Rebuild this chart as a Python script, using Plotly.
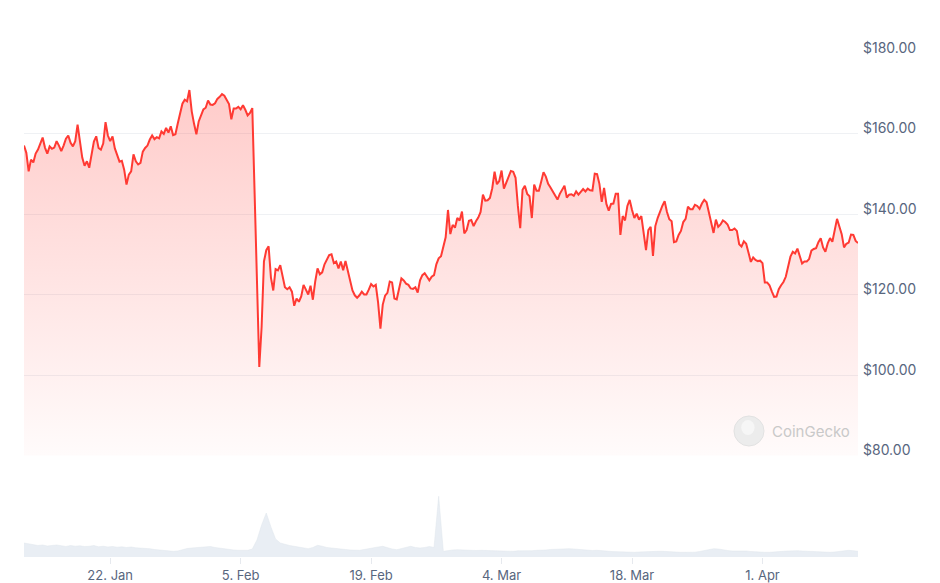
import pandas as pd
import plotly.graph_objects as go

# 6-hourly price samples (USD)
price_start = "2024-01-12 18:00"
price = [
    157.0, 155.2, 150.6, 153.5, 152.8, 155.0, 156.0, 157.5, 159.0, 156.5,
    155.0, 156.8, 156.2, 156.5, 158.1, 157.0, 155.6, 157.0, 158.7, 159.5,
    157.7, 156.8, 158.1, 162.2, 158.5, 154.0, 152.0, 153.1, 151.5, 154.5,
    158.0, 159.3, 156.4, 156.0, 157.5, 162.8, 159.5, 158.1, 159.3, 156.3,
    154.8, 153.0, 153.2, 151.0, 147.3, 149.8, 150.6, 154.8, 153.1, 152.3,
    152.7, 155.5, 156.4, 157.0, 158.5, 159.5, 158.6, 159.1, 158.8, 160.5,
    159.9, 161.4, 160.2, 161.8, 159.6, 159.8, 162.5, 164.7, 167.4, 168.4,
    168.0, 170.8, 165.5, 162.4, 159.8, 163.0, 164.3, 166.0, 166.4, 168.2,
    167.2, 167.1, 167.5, 168.6, 169.1, 169.8, 169.4, 168.4, 167.3, 163.5,
    166.2, 166.2, 166.6, 166.0, 167.0, 165.9, 164.5, 165.1, 166.3, 145.0,
    123.0, 102.0, 112.0, 128.2, 131.0, 132.0, 124.2, 121.0, 126.3, 126.0,
    127.3, 124.5, 121.8, 121.3, 121.8, 120.7, 117.2, 119.0, 118.2, 119.5,
    122.4, 121.2, 120.0, 122.2, 118.7, 123.2, 126.5, 125.0, 125.5, 127.5,
    128.8, 129.8, 130.0, 127.8, 128.2, 126.5, 128.2, 126.0, 128.3, 125.8,
    122.8, 121.0, 119.8, 119.2, 119.8, 120.7, 120.0, 120.0, 121.2, 122.6,
    122.0, 122.4, 118.0, 111.5, 117.5, 119.7, 120.4, 123.2, 123.0, 119.0,
    118.8, 121.5, 124.0, 123.5, 122.7, 122.4, 121.5, 121.4, 121.8, 120.5,
    123.5, 124.8, 125.3, 124.4, 123.5, 124.4, 124.8, 127.5, 129.0, 129.5,
    132.2, 134.2, 141.0, 135.0, 137.3, 136.6, 139.0, 138.4, 140.6, 135.2,
    136.0, 138.3, 138.5, 137.0, 138.2, 139.1, 140.5, 144.8, 143.3, 143.4,
    144.0, 146.4, 150.5, 147.4, 148.2, 150.8, 146.3, 147.8, 149.6, 150.7,
    150.5, 149.0, 142.0, 136.5, 146.0, 147.0, 145.0, 144.4, 139.0, 147.3,
    145.8, 145.8, 148.0, 150.4, 149.3, 147.5, 146.6, 145.6, 144.4, 143.6,
    145.0, 146.2, 147.0, 144.1, 144.8, 144.9, 144.5, 145.6, 144.8, 145.5,
    146.2, 145.6, 146.3, 145.9, 145.8, 150.0, 149.9, 147.5, 143.0, 146.5,
    142.5, 140.8, 142.5, 142.6, 145.0, 145.0, 134.8, 139.5, 138.4, 142.0,
    143.5, 141.0, 139.0, 140.1, 138.6, 139.5, 135.0, 131.0, 136.0, 136.8,
    129.6, 137.0, 139.0, 140.8, 142.0, 143.2, 140.5, 138.7, 138.2, 133.0,
    133.2, 134.8, 135.8, 138.0, 138.8, 141.8, 141.2, 141.2, 142.3, 142.0,
    141.3, 142.6, 143.5, 142.9, 140.2, 138.0, 135.3, 138.6, 136.8, 137.4,
    138.4, 138.0, 137.4, 136.0, 136.0, 136.4, 135.8, 132.5, 131.9, 133.2,
    132.6, 130.4, 128.1, 129.2, 128.6, 128.3, 128.4, 127.8, 123.0, 123.0,
    122.3, 120.8, 119.4, 119.5, 121.3, 122.3, 123.1, 124.4, 126.8, 129.4,
    130.6, 130.2, 131.4, 129.8, 127.7, 128.2, 128.2, 128.8, 130.9, 131.3,
    131.5, 133.0, 134.0, 131.7, 130.6, 132.7, 134.0, 133.1, 135.8, 138.8,
    136.9, 135.0, 131.7, 132.6, 132.9, 134.9, 134.8, 133.3, 132.8,
]

# 12-hourly trading volume (million USD)
volume = [
    140, 130, 120, 115, 120, 110, 115, 120, 113, 105,
    115, 108, 112, 105, 107, 115, 102, 108, 100, 105,
    98, 102, 95, 100, 92, 90, 85, 83, 75, 70,
    65, 60, 57, 60, 75, 85, 90, 95, 102, 107,
    105, 95, 88, 80, 75, 70, 67, 65, 67, 80,
    170, 320, 440, 300, 180, 140, 125, 115, 107, 100,
    92, 83, 95, 117, 108, 95, 90, 83, 80, 75,
    70, 68, 67, 75, 85, 95, 100, 107, 90, 80,
    73, 85, 95, 107, 95, 90, 95, 105, 95, 607,
    57, 65, 70, 73, 70, 68, 67, 65, 67, 65,
    60, 63, 58, 60, 57, 57, 62, 60, 65, 63,
    67, 67, 70, 75, 78, 75, 80, 83, 80, 75,
    70, 67, 65, 67, 67, 60, 55, 52, 50, 48,
    47, 47, 50, 53, 55, 58, 57, 57, 53, 50,
    48, 47, 47, 47, 48, 55, 65, 75, 83, 80,
    70, 65, 60, 62, 63, 60, 55, 50, 48, 47,
    47, 48, 52, 57, 60, 63, 63, 60, 57, 53,
    50, 48, 47, 47, 50, 55, 62, 67, 63, 57,
]

price_ticks = [80, 100, 120, 140, 160, 180]

price_time = pd.date_range(price_start, periods=len(price), freq="6h")
volume_time = pd.date_range(price_start, periods=len(volume), freq="12h")

RED = "#ff3a33"
GREY = "#58667e"

fig = go.Figure()

fig.add_trace(go.Scatter(
    x=volume_time, y=volume, yaxis="y2",
    mode="lines", line=dict(color="rgba(222,228,236,0.9)", width=0.5),
    fill="tozeroy", fillcolor="rgba(226,232,240,0.75)",
    hoverinfo="skip",
))

fig.add_trace(go.Scatter(
    x=price_time, y=price,
    mode="lines", line=dict(color=RED, width=2),
    fill="tozeroy",
    fillgradient=dict(
        type="vertical", start=80, stop=170,
        colorscale=[[0, "rgba(255,58,51,0.02)"], [1, "rgba(255,58,51,0.26)"]],
    ),
))

# watermark
fig.add_shape(type="circle", xref="paper", yref="paper",
              x0=0.8513, x1=0.8873, y0=0.2202, y1=0.2798,
              fillcolor="#ececec", line=dict(color="#e2e2e2", width=1), layer="above")
fig.add_shape(type="circle", xref="paper", yref="paper",
              x0=0.8600, x1=0.8760, y0=0.2420, y1=0.2720,
              fillcolor="#f6f6f6", line=dict(width=0), layer="above")
fig.add_annotation(text="CoinGecko", xref="paper", yref="paper",
                   x=0.8945, y=0.25, xanchor="left", yanchor="middle",
                   showarrow=False, font=dict(size=15, color="#c9c9c9"))

fig.update_layout(
    width=940, height=583,
    margin=dict(l=24, r=82, t=53, b=26),
    paper_bgcolor="white", plot_bgcolor="white",
    showlegend=False,
    font=dict(family="Inter, Roboto, sans-serif", size=13, color=GREY),
    xaxis=dict(
        anchor="y2", automargin=False,
        range=[price_time[0], price_time[-1]],
        tick0="2024-01-22", dtick=14 * 86400000,
        tickformat="%-d. %b",
        ticks="outside", ticklen=6, tickcolor="#e6e9ee",
        showgrid=False, showline=False, zeroline=False,
        tickfont=dict(size=13, color=GREY),
    ),
    yaxis=dict(
        domain=[0.2014, 1], range=[80, 180], side="right", automargin=False,
        tickvals=price_ticks,
        ticktext=[f"${v:.2f}" for v in price_ticks],
        gridcolor="#eff1f4", gridwidth=1,
        zeroline=False, showline=False,
        ticklabelshift=-5, ticklabelstandoff=4,
        tickfont=dict(size=14, color=GREY),
    ),
    yaxis2=dict(
        domain=[0, 0.1528], range=[0, 770], automargin=False,
        showticklabels=False, showgrid=False, zeroline=False,
    ),
)

fig.write_html(
    "out.html",
    config={"displayModeBar": False},
    post_script="document.body.style.margin='0';document.body.style.overflow='hidden';",
)
